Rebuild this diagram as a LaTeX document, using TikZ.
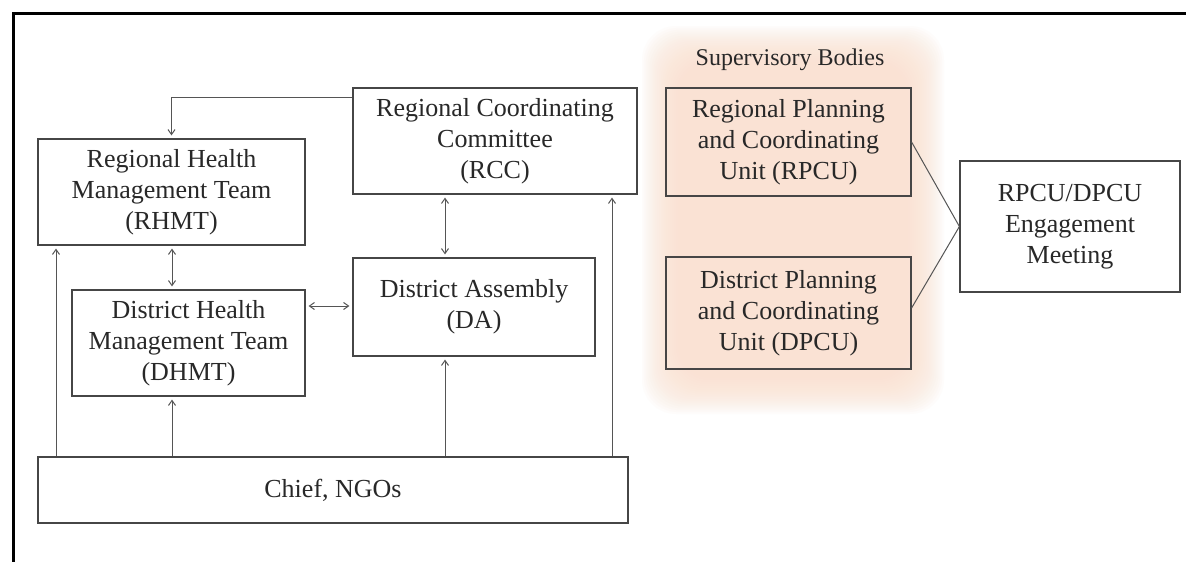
\documentclass[tikz,border=0pt]{standalone}
\usepackage{fontspec}
\setmainfont{Liberation Serif}
\usetikzlibrary{arrows.meta}
\definecolor{peach}{RGB}{250,226,208}
\definecolor{boxline}{RGB}{70,70,70}
\definecolor{wireline}{RGB}{85,85,85}
\definecolor{inktext}{RGB}{40,40,40}
\begin{document}
\begin{tikzpicture}[x=1pt,y=-1pt,
  unit/.style={draw=boxline,line width=1.2pt,fill=white,inner sep=0pt,align=center,
    text=inktext,font=\fontsize{26}{31}\selectfont},
  wire/.style={draw=wireline,line width=1pt},
  uparr/.style={wire,-{Straight Barb[length=5pt,width=7pt]},shorten >=3pt},
  botharr/.style={wire,{Straight Barb[length=5pt,width=7pt]}-{Straight Barb[length=5pt,width=7pt]},shorten >=3pt,shorten <=3pt}]
\useasboundingbox (0,0) rectangle (1189,562);
\fill[white] (0,0) rectangle (1189,562);

% soft peach panel behind the supervisory bodies
\foreach \i in {0,...,19}
  \fill[peach,fill opacity=0.08,rounded corners=34pt]
    (642+1.9*\i,26+1.9*\i) rectangle (944-1.9*\i,414-1.9*\i);

% frame
\draw[black,line width=3pt] (13,562) -- (13,13) -- (1186,13);

% boxes
\node[unit,minimum width=267pt,minimum height=106pt] (rhmt) at (171.5,192)
  {Regional Health\\Management Team\\(RHMT)};
\node[unit,minimum width=284pt,minimum height=106pt] (rcc) at (495,141)
  {Regional Coordinating\\Committee\\(RCC)};
\node[unit,minimum width=242pt,minimum height=98pt] (da) at (474,307)
  {District Assembly\\(DA)};
\node[unit,minimum width=233pt,minimum height=106pt] (dhmt) at (188.5,343)
  {District Health\\Management Team\\(DHMT)};
\node[unit,minimum width=590pt,minimum height=66pt] (chief) at (333,490)
  {Chief, NGOs};
\node[text=inktext,font=\fontsize{24}{28}\selectfont] (sup) at (790,60)
  {Supervisory Bodies};
\node[unit,fill=none,minimum width=245pt,minimum height=108pt] (rpcu) at (788.5,142)
  {Regional Planning\\and Coordinating\\Unit (RPCU)};
\node[unit,fill=none,minimum width=245pt,minimum height=112pt] (dpcu) at (788.5,313)
  {District Planning\\and Coordinating\\Unit (DPCU)};
\node[unit,minimum width=220pt,minimum height=131pt] (meet) at (1070,226.5)
  {RPCU/DPCU\\Engagement\\Meeting};

% connectors
\draw[uparr] (rcc.west |- 0,97) -| (rhmt.north);
\draw[botharr] (rhmt.south -| 172,0) -- (dhmt.north -| 172,0);
\draw[botharr] (dhmt.east |- 0,306) -- (da.west |- 0,306);
\draw[botharr] (rcc.south -| 445,0) -- (da.north -| 445,0);
\draw[uparr] (chief.north -| 56,0) -- (rhmt.south -| 56,0);
\draw[uparr] (chief.north -| 172,0) -- (dhmt.south -| 172,0);
\draw[uparr] (chief.north -| 445,0) -- (da.south -| 445,0);
\draw[uparr] (chief.north -| 612,0) -- (rcc.south -| 612,0);
\draw[wire] (rpcu.east |- 0,142) -- (meet.west);
\draw[wire] (dpcu.east |- 0,308) -- (meet.west);
\end{tikzpicture}
\end{document}
